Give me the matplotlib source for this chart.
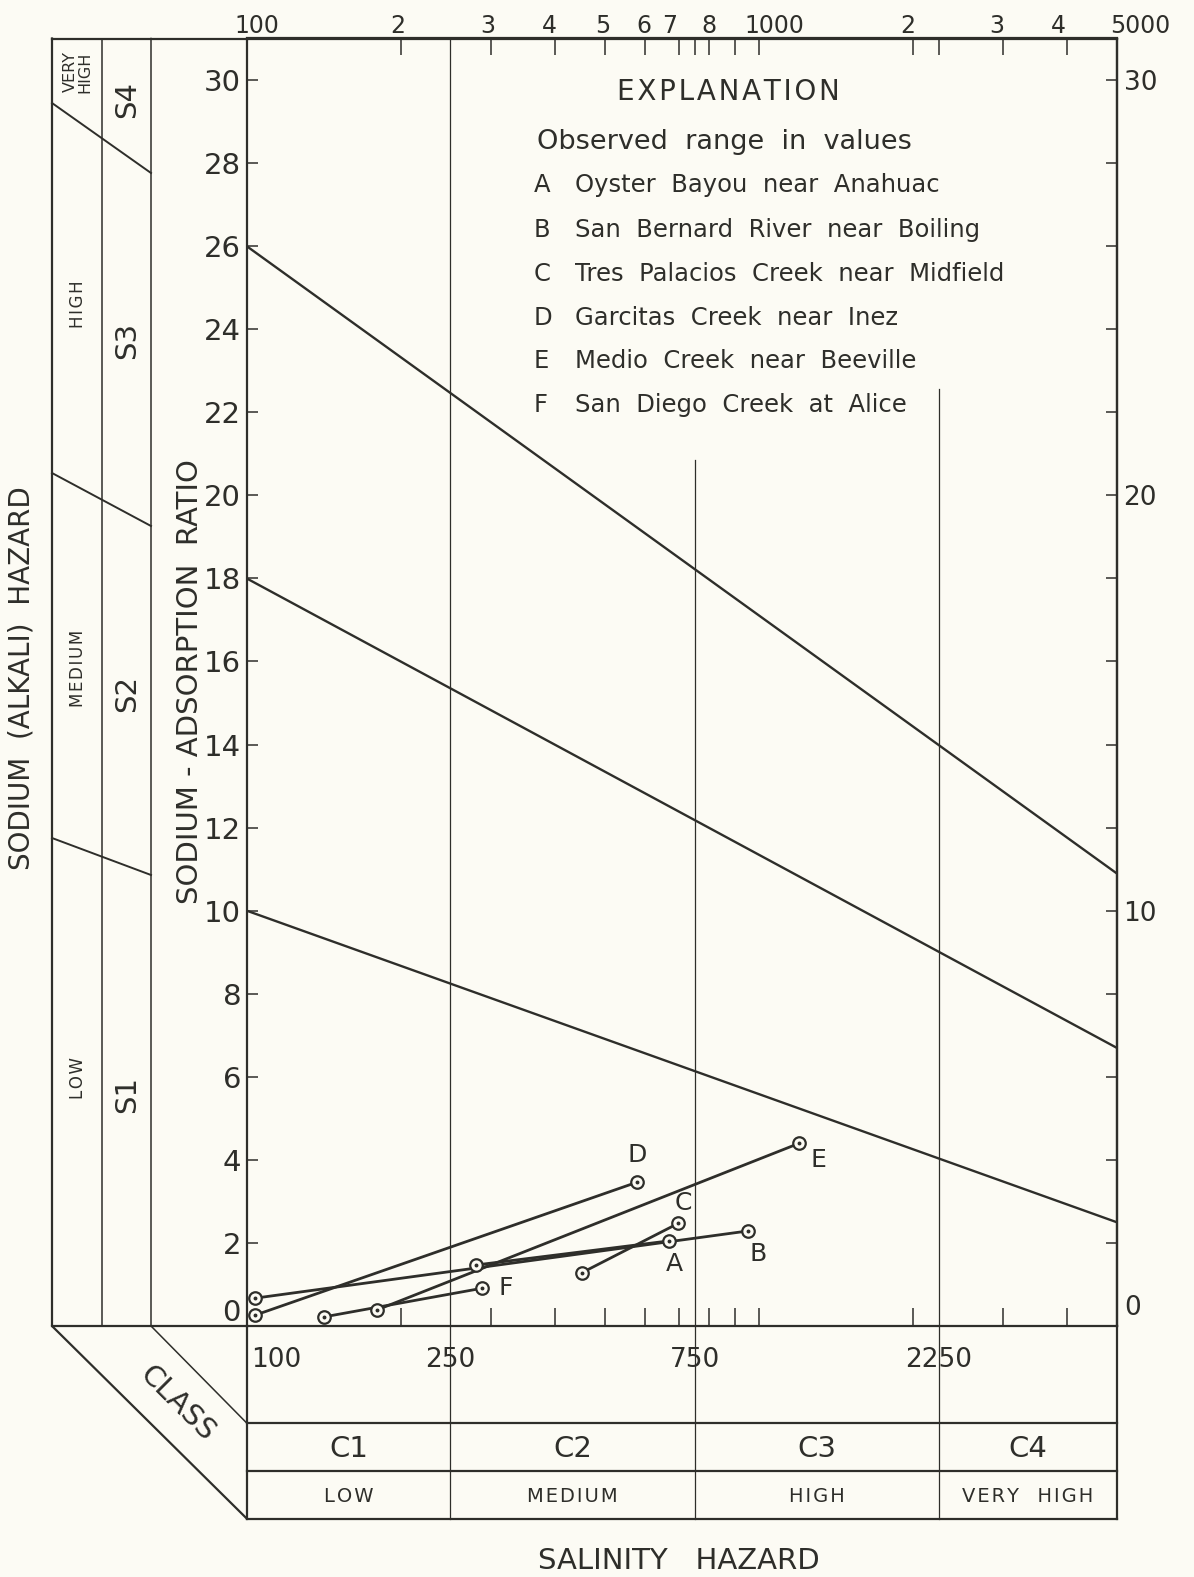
import matplotlib
matplotlib.use('Agg')
import matplotlib.pyplot as plt
from matplotlib.ticker import NullLocator
import matplotlib.transforms as mtransforms
import numpy as np

# ---------------- data ----------------
sar_ticks = list(range(0, 31, 2))
right_label_values = [10, 20, 30]
top_ticks = [200, 300, 400, 500, 600, 700, 750, 800, 900, 1000, 2000, 2250, 3000, 4000]
top_label_values = [100, 200, 300, 400, 500, 600, 700, 800, 1000, 2000, 3000, 4000, 5000]
top_label_texts = ['100', '2', '3', '4', '5', '6', '7', '8', '1000', '2', '3', '4', '5000']
top_label_shift = [10, -3, -3, -6, -2, -1, -10, 0, 16, -5, -6, -9, 24]
bottom_ticks = [200, 300, 400, 500, 600, 700, 800, 900, 1000, 2000, 3000, 4000]

# sodium-hazard class boundaries (SAR at 100 and 5000 micromhos)
boundary_x = [100, 5000]
boundary_s1_s2 = [10, 2.5]
boundary_s2_s3 = [18, 6.7]
boundary_s3_s4 = [26, 10.9]

# salinity class boundaries
salinity_bounds = [250, 750, 2250]
salinity_bound_tops = [31, 20.85, 22.57]
salinity_edges = [100, 250, 750, 2250, 5000]
salinity_labels = ['100', '250', '750', '2250']
class_codes = ['C1', 'C2', 'C3', 'C4']
class_names = ['LOW', 'MEDIUM', 'HIGH', 'VERY  HIGH']

# observed ranges
site_letters = ['A', 'B', 'C', 'D', 'E', 'F']
site_names = ['Oyster  Bayou  near  Anahuac', 'San  Bernard  River  near  Boiling',
              'Tres  Palacios  Creek  near  Midfield', 'Garcitas  Creek  near  Inez',
              'Medio  Creek  near  Beeville', 'San  Diego  Creek  at  Alice']
cond_min = [281, 103.8, 451, 103.8, 179.5, 141.7]
cond_max = [669, 955, 696, 578, 1200, 288.5]
sar_min = [1.47, 0.67, 1.28, 0.26, 0.385, 0.22]
sar_max = [2.05, 2.29, 2.47, 3.46, 4.40, 0.91]
# letter label offsets from the upper end point (pixels)
label_dx = [5, 10, 5, 0, 19, 16]
label_dy = [-23, -23, 20, 27, -17, 0]

# ---------------- style ----------------
ink = '#2e2e2a'
bg = '#fcfbf4'
plt.rcParams['font.family'] = ['DejaVu Sans']

W, H = 1194, 1577
fig = plt.figure(figsize=(W / 100, H / 100), dpi=100, facecolor=bg)

ov = fig.add_axes([0, 0, 1, 1])
ov.set_xlim(0, W)
ov.set_ylim(H, 0)
ov.axis('off')

x_left, x_right = 246.7, 1116.6
y_top, y_bot = 38.5, 1326.0
ax = fig.add_axes([x_left / W, 1 - y_bot / H, (x_right - x_left) / W, (y_bot - y_top) / H])
ax.set_facecolor('none')
ax.set_xscale('log')
ax.set_xlim(100, 5000)
ax.set_ylim(0, 31)
for s in ax.spines.values():
    s.set_color(ink)
    s.set_linewidth(1.6)

# left axis
ax.set_yticks(sar_ticks)
ax.set_yticklabels([str(v) if v != 0 else '' for v in sar_ticks])
ax.tick_params(axis='y', direction='in', length=8, width=1.1, pad=4, labelsize=21,
               colors=ink)
# bottom ticks (no labels)
ax.set_xticks(bottom_ticks)
ax.set_xticklabels([''] * len(bottom_ticks))
ax.xaxis.set_minor_locator(NullLocator())
ax.tick_params(axis='x', direction='in', length=13, width=1.1, colors=ink)

# top axis ticks
sec_top = ax.secondary_xaxis('top')
sec_top.set_xticks(top_ticks)
sec_top.set_xticklabels([''] * len(top_ticks))
sec_top.xaxis.set_minor_locator(NullLocator())
sec_top.tick_params(direction='in', length=12, width=1.1, colors=ink)
sec_top.spines['top'].set_linewidth(1.6)
sec_top.spines['top'].set_color(ink)

# right axis
sec_r = ax.secondary_yaxis('right')
sec_r.set_yticks(sar_ticks)
sec_r.set_yticklabels([str(v) if v in right_label_values else '' for v in sar_ticks])
sec_r.tick_params(direction='in', length=8, width=1.1, pad=5, labelsize=19, colors=ink)
sec_r.spines['right'].set_linewidth(1.6)
sec_r.spines['right'].set_color(ink)

bt = mtransforms.blended_transform_factory(ax.transData, ov.transData)

# top labels (shifted like the hand lettering)
for v, lab, sh in zip(top_label_values, top_label_texts, top_label_shift):
    tr = bt + mtransforms.ScaledTranslation(sh / 100, 0, fig.dpi_scale_trans)
    ov.text(v, 26, lab, ha='center', va='center', fontsize=17, color=ink, transform=tr)
# zero labels sit slightly above the base line
ov.text(241, 1313, '0', ha='right', va='center', fontsize=21, color=ink)
ov.text(1124, 1308, '0', ha='left', va='center', fontsize=19, color=ink)

# salinity boundaries inside the plot
for xb, top in zip(salinity_bounds, salinity_bound_tops):
    ax.plot([xb, xb], [0, top], color=ink, lw=0.9)

# sodium hazard boundaries
for yy in (boundary_s1_s2, boundary_s2_s3, boundary_s3_s4):
    ax.plot(boundary_x, yy, color=ink, lw=1.7)

# observed ranges
for i in range(len(site_letters)):
    xs = [cond_min[i], cond_max[i]]
    ys = [sar_min[i], sar_max[i]]
    ax.plot(xs, ys, color=ink, lw=2.0, solid_capstyle='round', zorder=3)
    ax.plot(xs, ys, ls='none', marker='o', ms=9, mfc=bg, mec=ink, mew=1.6, zorder=4)
    ax.plot(xs, ys, ls='none', marker='o', ms=1.8, mfc=ink, mec=ink, zorder=5)
    ax.annotate(site_letters[i], (cond_max[i], sar_max[i]),
                xytext=(label_dx[i] * 0.72, label_dy[i] * 0.72), textcoords='offset points',
                ha='left' if site_letters[i] == 'F' else 'center', va='center',
                fontsize=18, color=ink)

# ---------------- explanation ----------------
hs = '\u200a'
ov.text(728, 92, hs.join('EXPLANATION'), ha='center', va='center', fontsize=20, color=ink)
ov.text(537, 142, 'Observed  range  in  values', ha='left', va='center', fontsize=19.5,
        color=ink)
row_y = [185, 230, 274, 318, 361, 405]
for yy, let, name in zip(row_y, site_letters, site_names):
    ov.text(534, yy, let, ha='left', va='center', fontsize=17.5, color=ink)
    ov.text(575, yy, name, ha='left', va='center', fontsize=17.5, color=ink)

# ---------------- left frame ----------------
lw_frame = 1.6
xL, xC1, xC2 = 52, 102, 151
ov.plot([xL, x_left], [y_top, y_top], color=ink, lw=lw_frame)
ov.plot([xL, x_left], [y_bot, y_bot], color=ink, lw=lw_frame)
ov.plot([xL, xL, x_left], [y_top, y_bot, 1518.5], color=ink, lw=lw_frame)
ov.plot([xC1, xC1], [y_top, y_bot], color=ink, lw=1.1)
ov.plot([xC2, xC2, x_left], [y_top, y_bot, 1423], color=ink, lw=1.1)
for ya, yb in ((103, 173), (473, 526), (838, 875)):
    ov.plot([xL, xC2], [ya, yb], color=ink, lw=1.4)

ov.text(78, 72, 'VERY\nHIGH', rotation=90, ha='center', va='center', fontsize=11.5,
        color=ink, linespacing=0.95)
for txt, yy in (('HIGH', 304), ('MEDIUM', 668), ('LOW', 1078)):
    ov.text(78, yy, hs.join(txt), rotation=90, ha='center', va='center', fontsize=12,
            color=ink)
for txt, yy in (('S4', 100), ('S3', 340), ('S2', 693), ('S1', 1094)):
    ov.text(127, yy, txt, rotation=90, ha='center', va='center', fontsize=21, color=ink)

ov.text(190, 682, 'SODIUM - ADSORPTION  RATIO', rotation=90, ha='center', va='center',
        fontsize=21, color=ink)
ov.text(22, 678, 'SODIUM  (ALKALI)  HAZARD', rotation=90, ha='center', va='center',
        fontsize=20, color=ink)
ov.text(177, 1404, 'CLASS', rotation=-45, rotation_mode='anchor', ha='center', va='center',
        fontsize=21, color=ink)

# ---------------- bottom class table ----------------
for yy in (1423, 1471, 1518.5):
    ov.plot([x_left, x_right], [yy, yy], color=ink, lw=lw_frame)
ov.plot([x_left, x_left], [y_bot, 1518.5], color=ink, lw=lw_frame)
ov.plot([x_right, x_right], [y_bot, 1518.5], color=ink, lw=lw_frame)
for xb in salinity_bounds:
    ov.plot([xb, xb], [y_bot, 1518.5], color=ink, lw=0.9, transform=bt)

ov.text(251, 1360, salinity_labels[0], ha='left', va='center', fontsize=19, color=ink)
for xb, lab in zip(salinity_bounds, salinity_labels[1:]):
    ov.text(xb, 1360, lab, ha='center', va='center', fontsize=19, color=ink, transform=bt)
for i in range(4):
    xm = np.sqrt(salinity_edges[i] * salinity_edges[i + 1])
    ov.text(xm, 1449, class_codes[i], ha='center', va='center', fontsize=21, color=ink,
            transform=bt)
    ov.text(xm, 1496, hs.join(class_names[i]), ha='center', va='center', fontsize=14,
            color=ink, transform=bt)

ov.text(679, 1561, 'SALINITY   HAZARD', ha='center', va='center', fontsize=21, color=ink)

fig.savefig('out.png', dpi=100, facecolor=bg)
